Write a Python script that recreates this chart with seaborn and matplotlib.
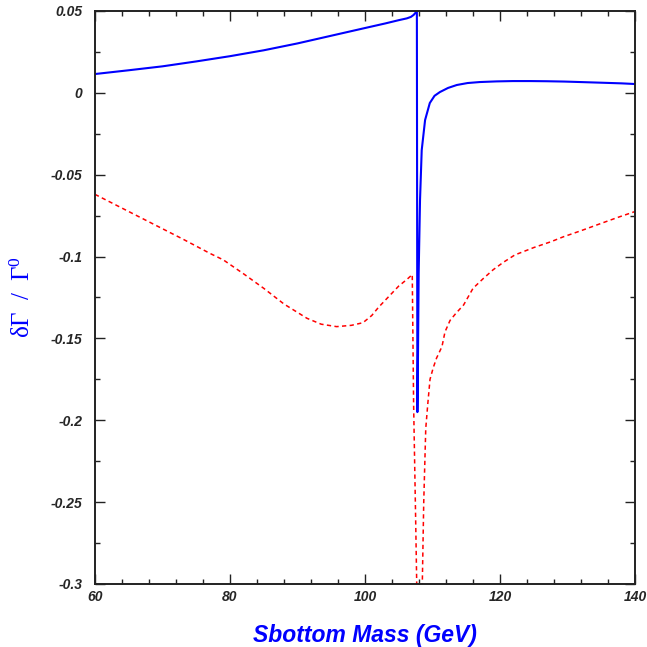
import matplotlib
matplotlib.use("Agg")
import matplotlib.pyplot as plt
from matplotlib.ticker import MultipleLocator, FormatStrFormatter
import pandas as pd
import seaborn as sns

# blue solid curve
blue_mass = [60, 65, 70, 75, 80, 85, 90, 95, 100, 103, 105, 106.2, 106.8, 107.2, 107.5,
             107.62, 107.68, 107.76, 107.85, 107.95, 108.15, 108.4, 108.9, 109.6, 110.3,
             111.1, 112.3, 113.6, 115.2, 117.0, 119.5, 121.9, 124.5, 126.9, 129.5, 131.9,
             135.0, 138.0, 140]
blue_val = [0.0115, 0.0138, 0.0162, 0.0192, 0.0224, 0.026, 0.0302, 0.0349, 0.0396, 0.0424,
            0.0444, 0.0455, 0.0464, 0.0476, 0.049, 0.0506, 0.06, -0.195, -0.16, -0.11,
            -0.0655, -0.035, -0.0166, -0.0062, -0.0018, 0.0005, 0.003, 0.0048, 0.006,
            0.0066, 0.0070, 0.0072, 0.0072, 0.0071, 0.0069, 0.0066, 0.0062, 0.0058, 0.0054]

# red dashed curve, left branch
red_l_mass = [60, 65, 70, 73.1, 77, 79, 82, 85, 88, 91.4, 93.5, 95.8, 98, 99.7, 101, 102,
              103.5, 105, 106.2, 107.0, 107.1, 107.2, 107.35, 107.5, 107.65, 107.75]
red_l_val = [-0.062, -0.0725, -0.083, -0.0895, -0.098, -0.102, -0.1105, -0.1194, -0.129,
             -0.1377, -0.1413, -0.1428, -0.142, -0.1404, -0.136, -0.131, -0.1245, -0.118,
             -0.114, -0.111, -0.15, -0.19, -0.225, -0.26, -0.297, -0.33]

# red dashed curve, right branch
red_r_mass = [108.4, 108.5, 108.7, 109.0, 109.3, 109.63, 110.1, 110.6, 111.4, 111.85,
              112.6, 113.5, 114.6, 116.0, 117.5, 119.0, 120.5, 122.2, 125, 127.5, 129.4,
              132, 135, 137.5, 140]
red_r_val = [-0.33, -0.297, -0.25, -0.205, -0.19, -0.175, -0.168, -0.162, -0.155, -0.146,
             -0.139, -0.1345, -0.1296, -0.1194, -0.1135, -0.108, -0.1035, -0.099, -0.0945,
             -0.091, -0.0879, -0.0842, -0.0797, -0.076, -0.0725]

blue_df = pd.DataFrame({"mass": blue_mass, "val": blue_val})
red_l_df = pd.DataFrame({"mass": red_l_mass, "val": red_l_val})
red_r_df = pd.DataFrame({"mass": red_r_mass, "val": red_r_val})

sns.set_style("ticks")
plt.rcParams["font.family"] = ["Liberation Sans", "DejaVu Sans"]
plt.rcParams["mathtext.fontset"] = "custom"
plt.rcParams["mathtext.rm"] = "Liberation Serif"
plt.rcParams["mathtext.it"] = "Liberation Serif:italic"

fig = plt.figure(figsize=(6.47, 6.47), dpi=100)
ax = fig.add_axes([0.1468, 0.0974, 0.8347, 0.8856])

# red dashed branches
for part in (red_l_df, red_r_df):
    sns.lineplot(data=part, x="mass", y="val", ax=ax, sort=False, color="#ff0000",
                 linewidth=1.1)
    ax.lines[-1].set_dashes([2.8, 2.2])
sns.lineplot(data=blue_df, x="mass", y="val", ax=ax, sort=False, color="#0000ff",
             linewidth=1.5)

ax.set_xlim(60, 140)
ax.set_ylim(-0.3, 0.05)
ax.xaxis.set_major_locator(MultipleLocator(20))
ax.xaxis.set_minor_locator(MultipleLocator(4))
ax.yaxis.set_major_locator(MultipleLocator(0.05))
ax.yaxis.set_minor_locator(MultipleLocator(0.025))
ax.yaxis.set_major_formatter(FormatStrFormatter("%g"))
ax.xaxis.set_major_formatter(FormatStrFormatter("%g"))

ax.tick_params(which="both", direction="in", top=True, right=True, color="#222222")
ax.tick_params(which="major", length=7, width=1.0)
ax.tick_params(which="minor", length=3.6, width=1.0)
ax.tick_params(axis="y", pad=9)
ax.tick_params(axis="x", pad=4)
for lab in ax.get_xticklabels() + ax.get_yticklabels():
    lab.set_fontsize(10)
    lab.set_fontweight("bold")
    lab.set_fontstyle("italic")
for sp in ax.spines.values():
    sp.set_visible(True)
    sp.set_linewidth(1.4)
    sp.set_color("#222222")

ax.set_xlabel("Sbottom Mass (GeV)", fontsize=16.5, fontweight="bold", fontstyle="italic",
              color="#0000ff", labelpad=15)
ax.set_ylabel(r"$\mathrm{\delta\Gamma\ \ /\ \ \Gamma}^{\mathit{0}}$", fontsize=18,
              color="#0000ff", labelpad=11)

fig.savefig("out.png", dpi=100)
